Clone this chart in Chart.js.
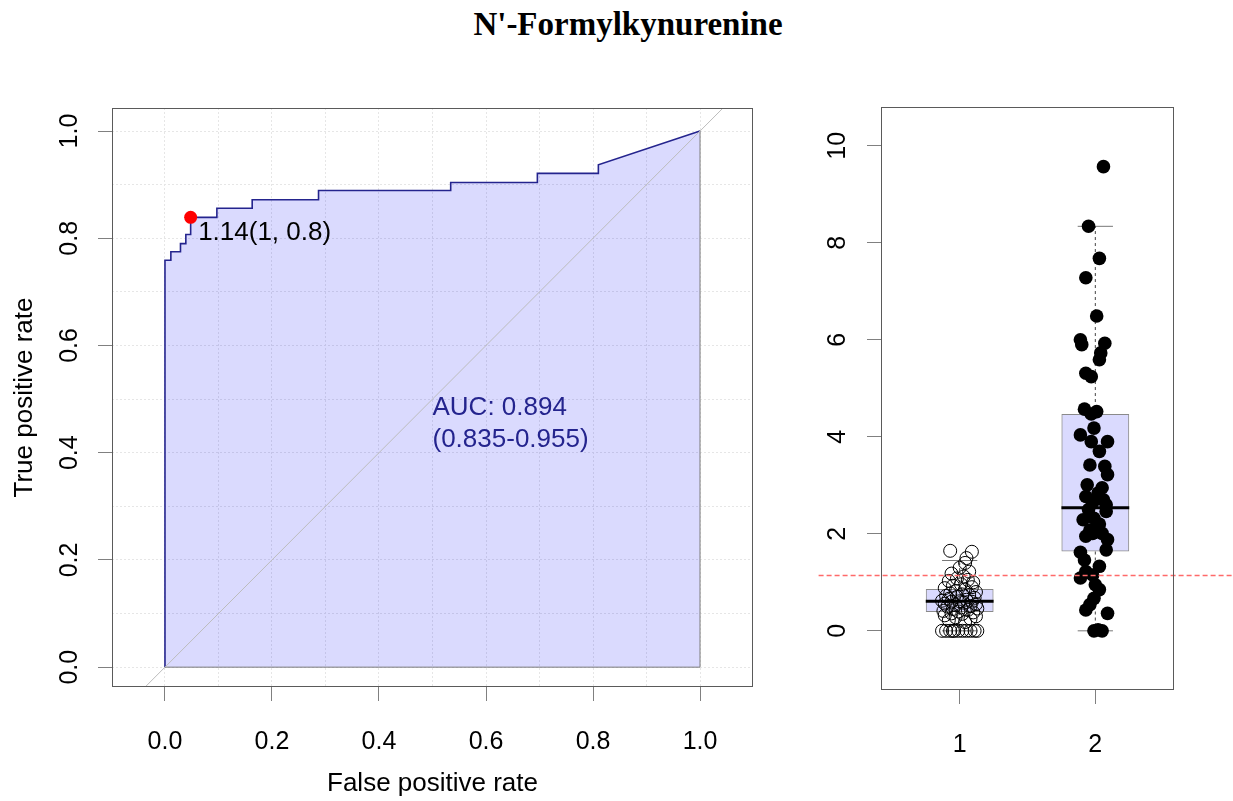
<!DOCTYPE html>
<html>
<head>
<meta charset="utf-8">
<script src="https://cdn.jsdelivr.net/npm/chart.js@4.4.1/dist/chart.umd.min.js"></script>
<style>
  body { margin: 0; background: #fff; }
  #page { position: relative; width: 1233px; height: 801px; overflow: hidden; background: #fff; }
  #title { position: absolute; left: 628px; top: 24px; transform: translate(-50%, -50%);
           font: bold 33px "Liberation Serif", "Times New Roman", serif; color: #000; white-space: nowrap; }
  #roc { position: absolute; left: 0; top: 0; }
  #box { position: absolute; left: 780px; top: 0; }
</style>
</head>
<body>
<div id="page">
  <div id="title">N'-Formylkynurenine</div>
  <canvas id="roc" width="780" height="801"></canvas>
  <canvas id="box" width="453" height="801"></canvas>
</div>
<script>
// ===============================
// DATA - ROC curve (false / true positive rate)
// ===============================
const rocFpr = [0, 0, 0.011, 0.011, 0.029, 0.029, 0.039, 0.039, 0.048, 0.048, 0.097, 0.097,
                0.163, 0.163, 0.287, 0.287, 0.534, 0.534, 0.696, 0.696, 0.81, 0.81, 1];
const rocTpr = [0, 0.759, 0.759, 0.775, 0.775, 0.79, 0.79, 0.807, 0.807, 0.839, 0.839, 0.856,
                0.856, 0.872, 0.872, 0.889, 0.889, 0.904, 0.904, 0.921, 0.921, 0.937, 1];
const rocGrid = [0, 0.1, 0.2, 0.3, 0.4, 0.5, 0.6, 0.7, 0.8, 0.9, 1.0];
const rocLabelled = [0, 0.2, 0.4, 0.6, 0.8, 1.0];
const diagRange = [-0.2, 1.2];
const thrPoint = [0.048, 0.839];
const thrText = "1.14(1, 0.8)";
const aucText = ["AUC: 0.894", "(0.835-0.955)"];

// ===============================
// DATA - box plot by group
// ===============================
const groups = [1, 2];
const boxQ1 = [0.39, 1.635];
const boxMedian = [0.61, 2.54];
const boxQ3 = [0.86, 4.47];
const whiskLow = [0, 0];
const whiskHigh = [1.45, 8.34];
const cutoff = 1.14;
const boxTicks = [0, 2, 4, 6, 8, 10];

const g1Vals = [0, 0, 0, 0, 0, 0, 0, 0, 0, 0, 0,
  0.18, 0.22, 0.25, 0.28, 0.30, 0.32, 0.35, 0.36, 0.38, 0.40, 0.41, 0.43, 0.45, 0.46, 0.48,
  0.50, 0.51, 0.53, 0.55, 0.56, 0.58, 0.60, 0.60, 0.61, 0.62, 0.64, 0.66, 0.68, 0.70, 0.72,
  0.74, 0.75, 0.77, 0.80, 0.82, 0.85, 0.88, 0.90, 0.93, 0.96, 1.00, 1.03, 1.05, 1.08, 1.12,
  1.18, 1.22, 1.30, 1.40, 1.50, 1.63, 1.65];
const g1X = [0.87, 0.90, 0.93, 0.96, 0.99, 1.02, 1.05, 1.08, 1.11, 1.13, 0.95,
  1.04, 0.92, 1.08, 0.97, 1.12, 0.89, 1.02, 0.94, 1.10, 0.99, 0.88, 1.06, 0.95, 1.13, 1.01,
  0.91, 1.08, 0.97, 1.12, 0.89, 1.03, 0.94, 1.09, 1.00, 0.87, 1.05, 0.92, 1.11, 0.98, 0.90,
  1.07, 1.02, 0.93, 1.12, 0.97, 1.04, 0.89, 1.09, 0.95, 1.01, 1.10, 0.92, 1.06, 0.98, 1.03,
  0.94, 1.07, 1.00, 1.04, 1.05, 1.09, 0.93];

const g2Vals = [9.57, 8.34, 7.68, 7.28, 6.49, 6.00, 5.90, 5.93, 5.73, 5.59, 5.31, 5.24,
  4.57, 4.47, 4.52, 4.18, 4.04, 3.90, 3.90, 3.70, 3.42, 3.39, 3.22, 3.01, 2.95, 2.84, 2.77,
  2.70, 2.64, 2.60, 2.50, 2.46, 2.32, 2.29, 2.20, 2.08, 2.01, 2.01, 1.95, 1.88, 1.67, 1.62,
  1.46, 1.33, 1.22, 1.15, 1.09, 0.95, 0.85, 0.67, 0.54, 0.43, 0.36, 0.02, 0, 0];
const g2X = [2.06, 1.95, 2.03, 1.93, 2.01, 1.89, 1.90, 2.07, 2.04, 2.03, 1.93, 1.97,
  1.92, 1.97, 2.01, 1.99, 1.89, 1.97, 2.09, 2.03, 1.96, 2.07, 2.09, 1.94, 2.05, 2.02, 1.93,
  2.06, 1.98, 2.08, 1.95, 2.08, 1.99, 1.91, 2.03, 1.96, 1.98, 2.05, 1.93, 2.09, 2.08, 1.89,
  1.92, 2.03, 1.93, 1.98, 1.89, 2.00, 2.03, 1.99, 1.96, 1.93, 2.09, 2.02, 2.05, 1.99];

// ===============================
// STYLE HELPERS
// ===============================
const FONT = "'Liberation Sans', Arial, sans-serif";
const AREA = "rgba(0, 0, 245, 0.145)";
const NAVY = "#24248e";

const framePlugin = {
  id: "frame",
  afterDraw(chart) {
    const { ctx, chartArea: a } = chart;
    ctx.save();
    ctx.strokeStyle = "#5a5a5a";
    ctx.lineWidth = 1;
    ctx.strokeRect(a.left + 0.5, a.top + 0.5, a.width - 1, a.height - 1);
    ctx.restore();
  }
};

const rocTextPlugin = {
  id: "rocText",
  afterDatasetsDraw(chart) {
    const { ctx, scales: { x, y } } = chart;
    ctx.save();
    ctx.font = "26px " + FONT;
    ctx.textBaseline = "middle";
    ctx.textAlign = "left";
    ctx.fillStyle = "#000";
    ctx.fillText(thrText, x.getPixelForValue(0.062), y.getPixelForValue(0.81));
    ctx.fillStyle = NAVY;
    ctx.fillText(aucText[0], x.getPixelForValue(0.5), y.getPixelForValue(0.483));
    ctx.fillText(aucText[1], x.getPixelForValue(0.5), y.getPixelForValue(0.424));
    ctx.restore();
  }
};

function isLabelled(v) {
  return rocLabelled.some(t => Math.abs(t - v) < 1e-6);
}

// ===============================
// ROC CHART
// ===============================
new Chart(document.getElementById("roc"), {
  type: "scatter",
  data: {
    datasets: [
      { type: "scatter", data: [{ x: thrPoint[0], y: thrPoint[1] }],
        pointRadius: 6.5, backgroundColor: "#ff0000", borderWidth: 0 },
      { type: "line", data: diagRange.map(v => ({ x: v, y: v })),
        borderColor: "#bcbcbc", borderWidth: 1, pointRadius: 0 },
      { type: "line", data: [{ x: 0, y: 0 }, { x: 1, y: 0 }, { x: 1, y: 1 }],
        borderColor: "#7a7a7a", borderWidth: 1, pointRadius: 0 },
      { type: "line", data: rocFpr.map((v, i) => ({ x: v, y: rocTpr[i] })),
        borderColor: NAVY, borderWidth: 1.6, pointRadius: 0, tension: 0,
        fill: "origin", backgroundColor: AREA }
    ]
  },
  options: {
    responsive: false,
    animation: false,
    layout: { padding: { top: 108, right: 27, left: 0, bottom: 0 } },
    plugins: { legend: { display: false }, tooltip: { enabled: false } },
    scales: {
      x: {
        type: "linear", min: -0.099, max: 1.099,
        afterBuildTicks: s => { s.ticks = rocGrid.map(v => ({ value: v })); },
        afterFit: s => { s.height = 114; },
        grid: { color: "#e6e6e6", tickLength: 14,
                tickColor: c => isLabelled(c.tick.value) ? "#808080" : "rgba(0,0,0,0)" },
        border: { display: false, dash: [2, 2] },
        ticks: { padding: 26, color: "#000", font: { family: FONT, size: 25 },
                 callback: v => isLabelled(v) ? v.toFixed(1) : "" },
        title: { display: true, text: "False positive rate", color: "#000",
                 font: { family: FONT, size: 26 }, padding: { top: 0, bottom: 2 } }
      },
      y: {
        type: "linear", min: -0.037, max: 1.043,
        afterBuildTicks: s => { s.ticks = rocGrid.map(v => ({ value: v })); },
        afterFit: s => { s.width = 112; },
        grid: { color: "#e6e6e6", tickLength: 14,
                tickColor: c => isLabelled(c.tick.value) ? "#808080" : "rgba(0,0,0,0)" },
        border: { display: false, dash: [2, 2] },
        ticks: { padding: 11, color: "#000", font: { family: FONT, size: 25 },
                 minRotation: 90, maxRotation: 90, crossAlign: "center",
                 callback: v => isLabelled(v) ? v.toFixed(1) : "" },
        title: { display: true, text: "True positive rate", color: "#000",
                 font: { family: FONT, size: 26 }, padding: { top: 9, bottom: 0 } }
      }
    }
  },
  plugins: [framePlugin, rocTextPlugin]
});

// ===============================
// BOX PLOT CHART
// ===============================
const boxDatasets = [
  { type: "line", data: [{ x: -0.04, y: cutoff }, { x: 3.2, y: cutoff }], clip: false,
    borderColor: "#ff6a6a", borderWidth: 1.6, borderDash: [5, 3], pointRadius: 0 },
  { type: "scatter", data: g2Vals.map((v, i) => ({ x: g2X[i], y: v })),
    pointRadius: 6.8, backgroundColor: "#000", borderWidth: 0 },
  { type: "scatter", data: g1Vals.map((v, i) => ({ x: g1X[i], y: v })),
    pointRadius: 6.5, backgroundColor: "rgba(0,0,0,0)", borderColor: "#000", borderWidth: 1 }
];

groups.forEach((g, i) => {
  boxDatasets.push(
    { type: "line", data: [{ x: g - 0.25, y: boxMedian[i] }, { x: g + 0.25, y: boxMedian[i] }],
      borderColor: "#000", borderWidth: 3, pointRadius: 0 },
    { type: "line", data: [{ x: g, y: boxQ3[i] }, { x: g, y: whiskHigh[i] }],
      borderColor: "#444", borderWidth: 1, borderDash: [3, 3], pointRadius: 0 },
    { type: "line", data: [{ x: g, y: boxQ1[i] }, { x: g, y: whiskLow[i] }],
      borderColor: "#444", borderWidth: 1, borderDash: [3, 3], pointRadius: 0 },
    { type: "line", data: [{ x: g - 0.13, y: whiskHigh[i] }, { x: g + 0.13, y: whiskHigh[i] }],
      borderColor: "#777", borderWidth: 1, pointRadius: 0 },
    { type: "line", data: [{ x: g - 0.13, y: whiskLow[i] }, { x: g + 0.13, y: whiskLow[i] }],
      borderColor: "#777", borderWidth: 1, pointRadius: 0 }
  );
});

boxDatasets.push({
  type: "bar",
  data: groups.map((g, i) => ({ x: g, y: [boxQ1[i], boxQ3[i]] })),
  backgroundColor: AREA, borderColor: "#8a8a8a", borderWidth: 1, borderSkipped: false,
  barPercentage: 0.5, categoryPercentage: 1
});

new Chart(document.getElementById("box"), {
  type: "scatter",
  data: { datasets: boxDatasets },
  options: {
    responsive: false,
    animation: false,
    layout: { padding: { top: 107, right: 59, left: 0, bottom: 0 } },
    plugins: { legend: { display: false }, tooltip: { enabled: false } },
    scales: {
      x: {
        type: "linear", min: 0.42, max: 2.58, offset: false,
        afterBuildTicks: s => { s.ticks = groups.map(v => ({ value: v })); },
        afterFit: s => { s.height = 111; },
        grid: { drawOnChartArea: false, offset: false, tickLength: 14, color: "#808080" },
        border: { display: false },
        ticks: { padding: 26, color: "#000", font: { family: FONT, size: 25 },
                 callback: v => String(v) }
      },
      y: {
        type: "linear", min: -1.22, max: 10.8,
        afterBuildTicks: s => { s.ticks = boxTicks.map(v => ({ value: v })); },
        afterFit: s => { s.width = 101; },
        grid: { drawOnChartArea: false, tickLength: 14, color: "#808080" },
        border: { display: false },
        ticks: { padding: 15, color: "#000", font: { family: FONT, size: 25 },
                 minRotation: 90, maxRotation: 90, crossAlign: "center",
                 callback: v => String(v) }
      }
    }
  },
  plugins: [framePlugin]
});
</script>
</body>
</html>
